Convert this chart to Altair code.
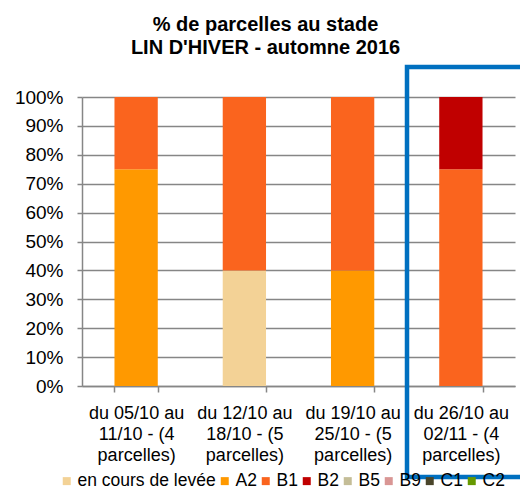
import altair as alt
import pandas as pd

categories = [
    "du 05/10 au|11/10 - (4|parcelles)",
    "du 12/10 au|18/10 - (5|parcelles)",
    "du 19/10 au|25/10 - (5|parcelles)",
    "du 26/10 au|02/11 - (4|parcelles)",
]
stages = ["en cours de levée", "A2", "B1", "B2", "B5", "B9", "C1", "C2"]
stage_colors = ["#F3D296", "#FF9900", "#FA641E", "#C00000", "#C4BD97", "#D99694", "#4A452A", "#669900"]

# percentage of plots per stage for each period (rows: categories, cols: stages)
values = {
    "en cours de levée": [0, 40, 0, 0],
    "A2": [75, 0, 40, 0],
    "B1": [25, 60, 60, 75],
    "B2": [0, 0, 0, 25],
    "B5": [0, 0, 0, 0],
    "B9": [0, 0, 0, 0],
    "C1": [0, 0, 0, 0],
    "C2": [0, 0, 0, 0],
}

rows = []
for si, s in enumerate(stages):
    for ci, c in enumerate(categories):
        rows.append({"periode": c, "stade": s, "ordre": si, "pct": values[s][ci] / 100})
df = pd.DataFrame(rows)

font = "Liberation Sans"
gray = "#868686"

xscale = alt.Scale(domain=categories, paddingInner=0.6, paddingOuter=0.3)

bars = alt.Chart(df).mark_bar().encode(
    x=alt.X(
        "periode:N",
        scale=xscale,
        sort=categories,
        title=None,
        axis=alt.Axis(
            labelExpr="split(datum.label, '|')",
            labelAngle=0,
            labelFont=font,
            labelFontSize=18,
            labelColor="#000000",
            labelLineHeight=21,
            labelPadding=12,
            tickBand="extent",
            tickSize=6,
            tickColor=gray,
            domainColor=gray,
            domainWidth=1.5,
            tickWidth=1.5,
            grid=False,
        ),
    ),
    y=alt.Y(
        "pct:Q",
        stack="zero",
        scale=alt.Scale(domain=[0, 1], nice=False),
        title=None,
        axis=alt.Axis(
            format=".0%",
            values=[i / 10 for i in range(11)],
            labelFont=font,
            labelFontSize=19,
            labelColor="#000000",
            labelPadding=14,
            tickSize=5,
            tickColor=gray,
            tickWidth=1.5,
            domainColor=gray,
            domainWidth=1.5,
            gridColor=gray,
            gridWidth=1.5,
        ),
    ),
    color=alt.Color(
        "stade:N",
        scale=alt.Scale(domain=stages, range=stage_colors),
        sort=stages,
        title=None,
        legend=alt.Legend(
            orient="none",
            legendX=-24,
            legendY=375,
            padding=0,
            direction="horizontal",
            symbolType="square",
            symbolSize=64,
            symbolStrokeWidth=0,
            labelFont=font,
            labelFontSize=17.5,
            labelColor="#000000",
            labelOffset=2,
            columnPadding=0,
            columns=8,
        ),
    ),
    order=alt.Order("ordre:Q", sort="ascending"),
)

highlight = alt.Chart(pd.DataFrame({"a": [0]})).mark_rect(
    fill=None, stroke="#0070C0", strokeWidth=4.5, clip=False
).encode(
    x=alt.value(325), x2=alt.value(452), y=alt.value(-30), y2=alt.value(380)
)

chart = alt.layer(bars, highlight).properties(
    width=433,
    height=289,
    autosize=alt.AutoSizeParams(type="none"),
    padding={"left": 74, "top": 89, "right": 5, "bottom": 106},
    title=alt.TitleParams(
        text=["% de parcelles au stade", "LIN D'HIVER - automne 2016"],
        font=font,
        fontSize=20,
        fontWeight="bold",
        color="#000000",
        anchor="middle",
        dx=-33,
        dy=-3,
        lineHeight=23,
    ),
).configure_view(stroke=None)

chart.save("out.html", embed_options={"renderer": "svg", "actions": False})
